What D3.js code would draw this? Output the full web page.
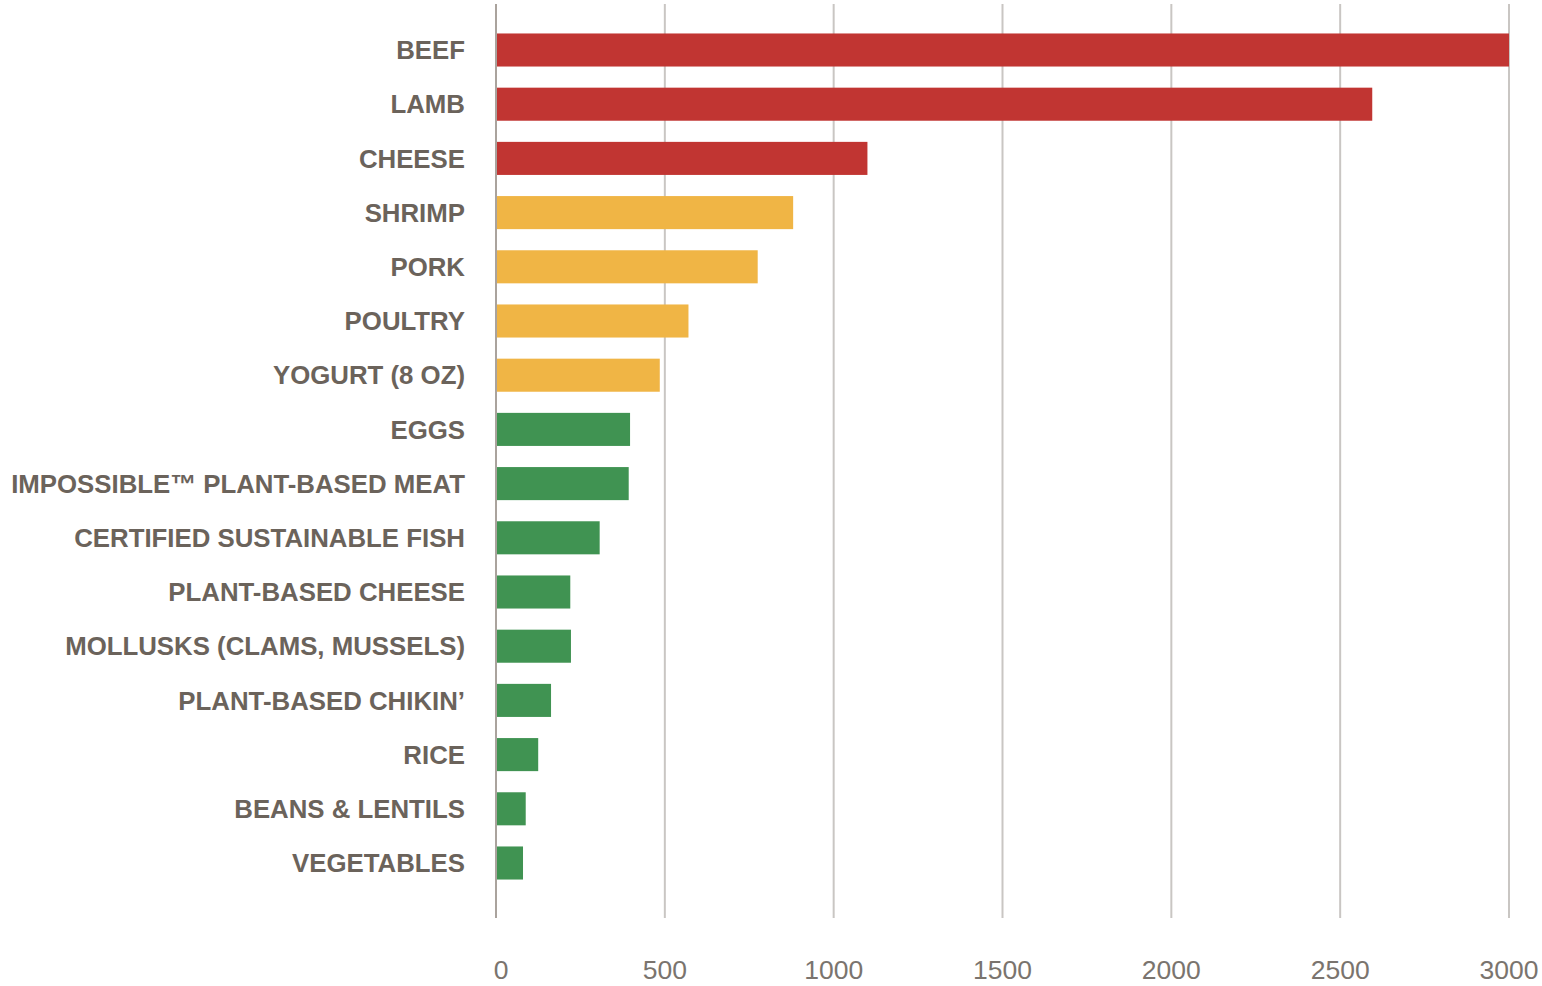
<!DOCTYPE html>
<html>
<head>
<meta charset="utf-8">
<script src="https://cdn.jsdelivr.net/npm/d3@7"></script>
<style>
  html, body { margin: 0; padding: 0; background: #ffffff; }
  svg { display: block; }
</style>
</head>
<body>
<svg id="chart" width="1542" height="986"></svg>
<script>
// Foods and their footprint values (one bar each, top to bottom)
const foods = [
  "BEEF", "LAMB", "CHEESE", "SHRIMP", "PORK", "POULTRY", "YOGURT (8 OZ)",
  "EGGS", "IMPOSSIBLE™ PLANT-BASED MEAT", "CERTIFIED SUSTAINABLE FISH",
  "PLANT-BASED CHEESE", "MOLLUSKS (CLAMS, MUSSELS)", "PLANT-BASED CHIKIN’",
  "RICE", "BEANS & LENTILS", "VEGETABLES"
];
const values = [3000, 2595, 1100, 880, 775, 570, 485, 397, 393, 307, 220, 222, 163, 125, 88, 80];
// Impact group for each food: high, medium, low
const groups = ["high", "high", "high", "mid", "mid", "mid", "mid",
  "low", "low", "low", "low", "low", "low", "low", "low", "low"];
const xTicks = [0, 500, 1000, 1500, 2000, 2500, 3000];

const groupColor = d3.scaleOrdinal()
  .domain(["high", "mid", "low"])
  .range(["#c13532", "#f0b545", "#409352"]);

const svg = d3.select("#chart");
const x0 = 496, x1 = 1509;
const gridTop = 4, gridBottom = 918;

const x = d3.scaleLinear().domain([0, 3000]).range([x0, x1]);
const y = d3.scaleBand()
  .domain(foods)
  .range([22.9, 890.1])
  .paddingInner(0.39)
  .paddingOuter(0.195);

// Vertical gridlines
svg.append("g")
  .selectAll("line")
  .data(xTicks)
  .join("line")
  .attr("x1", d => x(d))
  .attr("x2", d => x(d))
  .attr("y1", gridTop)
  .attr("y2", gridBottom)
  .attr("stroke", d => d === 0 ? "#aaa39d" : "#c9c6c3")
  .attr("stroke-width", 2);

// Bars
const rows = foods.map((f, i) => ({ food: f, value: values[i], group: groups[i] }));
svg.append("g")
  .selectAll("rect")
  .data(rows)
  .join("rect")
  .attr("x", x(0) + 1)
  .attr("y", d => y(d.food))
  .attr("width", d => x(d.value) - x(0) - 1)
  .attr("height", y.bandwidth())
  .attr("fill", d => groupColor(d.group));

// Category labels
svg.append("g")
  .selectAll("text")
  .data(rows)
  .join("text")
  .attr("x", 465)
  .attr("y", d => y(d.food) + y.bandwidth() / 2)
  .attr("dy", "0.36em")
  .attr("text-anchor", "end")
  .attr("font-family", "'Liberation Sans', Arial, sans-serif")
  .attr("font-weight", "bold")
  .attr("font-size", "25.8px")
  .attr("fill", "#6b635b")
  .text(d => d.food);

// Value axis tick labels
svg.append("g")
  .selectAll("text")
  .data(xTicks)
  .join("text")
  .attr("x", d => x(d) + (d === 0 ? 5 : 0))
  .attr("y", 979)
  .attr("text-anchor", "middle")
  .attr("font-family", "'Liberation Sans', Arial, sans-serif")
  .attr("font-size", "26.5px")
  .attr("fill", "#7a746e")
  .text(d => d);
</script>
</body>
</html>
